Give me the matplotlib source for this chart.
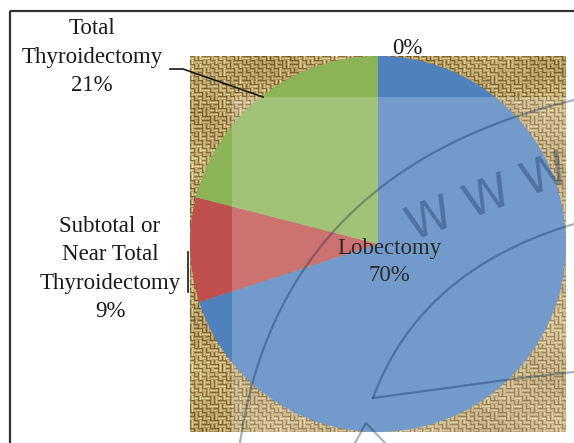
import numpy as np
import matplotlib
matplotlib.use("Agg")
import matplotlib.pyplot as plt
from matplotlib.patches import Rectangle

# ---- data ----
categories = ["", "Lobectomy", "Subtotal or\nNear Total\nThyroidectomy", "Total\nThyroidectomy"]
values = [0, 70, 9, 21]
dark_colors = ["#4a7cba", "#4f81bd", "#c0504d", "#8cb457"]

W, H = 574, 443
fig = plt.figure(figsize=(W / 100, H / 100), dpi=100)
ax = fig.add_axes([0, 0, 1, 1])


def Y(py):
    return H - py


def fract_hash(a, b):
    return (np.sin(a * 12.9898 + b * 78.233) * 43758.5453) % 1.0


# ---- burlap texture (deterministic pattern) ----
bx0, bx1, by0, by1 = 190, 566, 56, 432
n_w, n_h = bx1 - bx0, by1 - by0
yy, xx = np.mgrid[0:n_h, 0:n_w]
period = 4.0
tx = np.floor(xx / period)          # vertical thread index
ty = np.floor(yy / period)          # horizontal thread index
# over/under weave with irregular blocks
blk = fract_hash(np.floor(xx / 8.0), np.floor(yy / 8.0))
over_h = ((tx + ty) % 2 == 0) ^ (blk > 0.6)
h = np.sin(np.pi * (yy % period) / period) ** 1.5 * (0.7 + 0.3 * fract_hash(ty, 3.1))
v = np.sin(np.pi * (xx % period) / period) ** 1.5 * (0.7 + 0.3 * fract_hash(tx, 7.7))
weave = np.where(over_h, h, v)
noise = fract_hash(xx, yy)
blot = 0.5 + 0.5 * np.sin(xx / 23.0 + 1.3) * np.cos(yy / 17.0)
t = np.clip(0.7 * weave + 0.18 * noise + 0.12 * blot, 0, 1)
dark = np.array([112, 80, 30]) / 255
light = np.array([248, 232, 176]) / 255
img = dark[None, None, :] + (light - dark)[None, None, :] * t[..., None]
ax.imshow(img, extent=[bx0, bx1, Y(by1), Y(by0)], origin="upper",
          interpolation="bilinear", zorder=1, aspect="auto")

# ---- pie ----
cx, cy, r = 378, 244, 188
wedges, _ = ax.pie(values, colors=dark_colors, startangle=90, counterclock=False,
                   center=(cx, Y(cy)), radius=r, frame=True,
                   wedgeprops=dict(linewidth=0))
for w in wedges:
    w.set_zorder(2)
ax.set_xlim(0, W)
ax.set_ylim(0, H)
ax.axis("off")

# lighter overlay (reference shows a lighter region right/below)
ax.add_patch(Rectangle((232, Y(by1)), bx1 - 232, by1 - 97, facecolor="white",
                       alpha=0.2, edgecolor="none", zorder=3))

# ---- labels ----
serif = ["Liberation Serif", "DejaVu Serif"]
fs = 16.5
ax.text(92, Y(57), f"{categories[3]}\n{values[3]}%", ha="center", va="center",
        fontsize=fs, family=serif, color="#1a1a1a", linespacing=1.45, zorder=6)
ax.text(110, Y(269), f"{categories[2]}\n{values[2]}%", ha="center", va="center",
        fontsize=fs, family=serif, color="#1a1a1a", linespacing=1.45, zorder=6)
ax.text(389, Y(262), f"{categories[1]}\n{values[1]}%", ha="center", va="center",
        fontsize=fs, family=serif, color="#2b2b2b", linespacing=1.35, zorder=6)
ax.text(407, Y(48), f"{values[0]}%", ha="center", va="center",
        fontsize=fs, family=serif, color="#1a1a1a", zorder=6)

# leader lines
ax.plot([170, 183, 263], [Y(69), Y(69), Y(97)], color="#1a1a1a", lw=1.2, zorder=6)
ax.plot([188, 188], [Y(252), Y(292)], color="#1a1a1a", lw=1.2, zorder=6)

# ---- watermark ----
wm = dict(color="#0a2a55", alpha=0.35, lw=1.6, zorder=5)


def bez(p0, p1, p2, n=60):
    s = np.linspace(0, 1, n)[:, None]
    pts = (1 - s) ** 2 * np.array(p0) + 2 * (1 - s) * s * np.array(p1) + s ** 2 * np.array(p2)
    return pts[:, 0], H - pts[:, 1]


ax.plot(*bez((240, 443), (280, 170), (574, 100)), **wm)
ax.plot(*bez((373, 398), (420, 270), (574, 224)), **wm)
ax.plot([373, 513, 574], [Y(398), Y(379), Y(372)], **wm)
ax.plot([355, 366, 385], [Y(443), Y(423), Y(443)], **wm)
ax.text(488, Y(199), "W W W", rotation=21, ha="center", va="center", fontsize=34,
        family="DejaVu Sans", color="#0a2a55", alpha=0.35, zorder=5)

# ---- frame border ----
ax.plot([10, 10], [Y(443), Y(11)], color="#333333", lw=1.6, zorder=7,
        solid_capstyle="butt")
ax.plot([10, 574], [Y(11), Y(11)], color="#333333", lw=1.6, zorder=7,
        solid_capstyle="butt")

fig.savefig("out.png", dpi=100)
